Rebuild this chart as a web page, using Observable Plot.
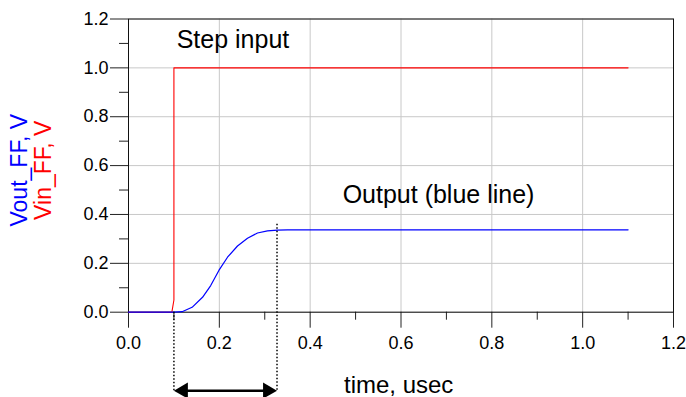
<!DOCTYPE html>
<html><head><meta charset="utf-8">
<script src="https://cdn.jsdelivr.net/npm/d3@7"></script>
<script src="https://cdn.jsdelivr.net/npm/@observablehq/plot@0.6"></script>
<style>body{margin:0;background:#fff} #chart svg{display:block}</style>
</head><body><div id="chart"></div>
<script>
// Step input Vin_FF (V) vs time (usec)
const vinTime  = [0, 0.0955, 0.1, 0.1, 1.1];
const vinValue = [0, 0, 0.05, 1.0, 1.0];
// Output Vout_FF (V) vs time (usec)
const voutTime  = [0, 0.1, 0.118, 0.140, 0.163, 0.181, 0.199, 0.218, 0.240, 0.262, 0.284, 0.306, 0.328, 0.350, 1.1];
const voutValue = [0, 0, 0.002, 0.020, 0.061, 0.109, 0.171, 0.225, 0.271, 0.303, 0.324, 0.333, 0.336, 0.337, 0.337];
// Axis ticks
const xMajor = [0, 0.2, 0.4, 0.6, 0.8, 1.0, 1.2];
const xMinor = [0.1, 0.3, 0.5, 0.7, 0.9, 1.1];
const yMajor = [0, 0.2, 0.4, 0.6, 0.8, 1.0, 1.2];
const yMinor = [0.1, 0.3, 0.5, 0.7, 0.9, 1.1];
// Rise-time interval markers
const intervalTimes = [0.1, 0.327];
const intervalTops  = [0, 0.36];
const intervalLevel = -0.321;

const vin = vinTime.map((t, i) => ({t, v: vinValue[i]}));
const vout = voutTime.map((t, i) => ({t, v: voutValue[i]}));
const fmt = d3.format(".1f");
const FONT = "'Liberation Sans', Arial, Helvetica, sans-serif";

const chart = Plot.plot({
  width: 686, height: 397,
  marginLeft: 128, marginRight: 13, marginTop: 18.5, marginBottom: 85.3,
  style: {fontFamily: FONT, fontSize: "18px", background: "white", color: "black", overflow: "visible"},
  x: {domain: [0, 1.2]},
  y: {domain: [0, 1.2]},
  marks: [
    Plot.gridX(xMajor, {stroke: "#c8c8c8", strokeOpacity: 1}),
    Plot.gridY(yMajor, {stroke: "#c8c8c8", strokeOpacity: 1}),
    Plot.axisX(xMajor, {tickSize: 16, tickPadding: 8, tickFormat: fmt, fontSize: 18, label: null, stroke: "#222"}),
    Plot.axisX(xMinor, {tickSize: 8, tickFormat: () => "", label: null, stroke: "#222"}),
    Plot.axisY(yMajor, {tickSize: 18, tickPadding: 2, tickFormat: fmt, fontSize: 18, label: null, stroke: "#222"}),
    Plot.axisY(yMinor, {tickSize: 9, tickFormat: () => "", label: null, stroke: "#222"}),
    Plot.frame({stroke: "#111"}),
    Plot.line(vin, {x: "t", y: "v", stroke: "#ff0000", strokeWidth: 1.1}),
    Plot.line(vout, {x: "t", y: "v", stroke: "#0000ff", strokeWidth: 1.2}),
    Plot.ruleX(intervalTimes, {x: d => d, y1: (d, i) => intervalTops[i], y2: intervalLevel,
      stroke: "black", strokeWidth: 1.5, strokeDasharray: "1.5,2"}),
    Plot.ruleY([intervalLevel], {x1: intervalTimes[0], x2: intervalTimes[1], y: d => d, stroke: "black", strokeWidth: 2.5, insetLeft: 8, insetRight: 8}),
    Plot.dot([intervalTimes[0]], {x: d => d, y: intervalLevel, symbol: "triangle", r: 6, rotate: -90, fill: "black", stroke: "none", dx: 9.3}),
    Plot.dot([intervalTimes[1]], {x: d => d, y: intervalLevel, symbol: "triangle", r: 6, rotate: 90, fill: "black", stroke: "none", dx: -9.3}),
    Plot.text(["Step input"], {x: 0.106, y: 1.08, text: d => d, textAnchor: "start", lineAnchor: "bottom", fontSize: 25, fill: "black"}),
    Plot.text(["Output (blue line)"], {x: 0.4715, y: 0.448, text: d => d, textAnchor: "start", lineAnchor: "bottom", fontSize: 25, fill: "black"}),
    Plot.text(["time, usec"], {x: 0.4745, y: -0.329, text: d => d, textAnchor: "start", lineAnchor: "bottom", fontSize: 24, fill: "black"}),
    Plot.text(["Vout_FF, V"], {x: -0.223, y: 0.581, text: d => d, rotate: -90, textAnchor: "middle", lineAnchor: "bottom", fontSize: 23, fill: "#0000ff"}),
    Plot.text(["Vin_FF, V"], {x: -0.170, y: 0.581, text: d => d, rotate: -90, textAnchor: "middle", lineAnchor: "bottom", fontSize: 23, fill: "#ff0000"})
  ]
});
document.getElementById("chart").append(chart);
</script>
</body></html>
